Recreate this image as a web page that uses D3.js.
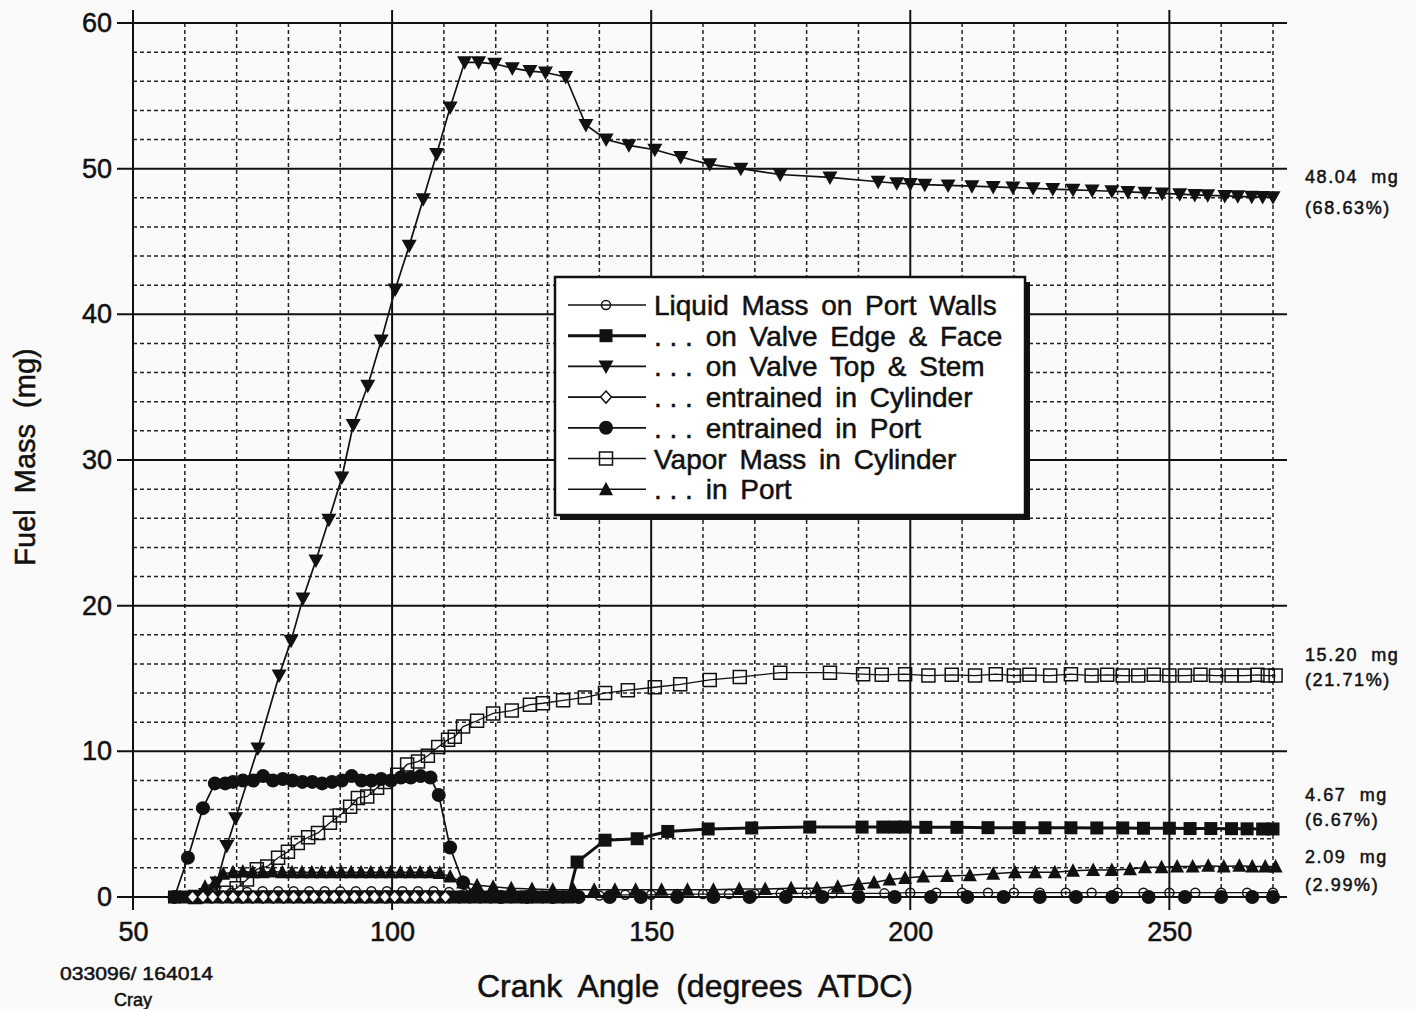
<!DOCTYPE html>
<html>
<head>
<meta charset="utf-8">
<script src="https://cdn.jsdelivr.net/npm/d3@7"></script>
<style>
  body { margin: 0; background: #fafafa; }
  svg { display: block; }
  text { font-family: "Liberation Sans", Arial, Helvetica, sans-serif; fill: #111; stroke: #111; stroke-width: 0.5px; }
</style>
</head>
<body>
<svg id="chart" width="1416" height="1009"></svg>
<script>
// ---- data (crank angle, fuel mass in mg) ----
const wallsX = [60, 63, 66, 69, 72, 75, 78, 81, 84, 87, 90, 93, 96, 99, 102, 105, 108, 111, 114, 117, 120, 124, 128, 132, 136, 140, 145, 150, 155, 160, 165, 170, 175, 180, 185, 190, 195, 200, 205, 210, 215, 220, 225, 230, 235, 240, 245, 250, 255, 260, 265, 270];
const wallsY = [0, 0.1, 0.2, 0.3, 0.35, 0.4, 0.4, 0.4, 0.4, 0.4, 0.4, 0.4, 0.4, 0.4, 0.4, 0.4, 0.4, 0.35, 0.2, 0.1, 0.05, 0.05, 0.05, 0.05, 0.1, 0.1, 0.15, 0.15, 0.2, 0.2, 0.2, 0.2, 0.25, 0.25, 0.25, 0.25, 0.25, 0.3, 0.3, 0.3, 0.3, 0.3, 0.3, 0.3, 0.3, 0.3, 0.3, 0.3, 0.3, 0.3, 0.3, 0.3];

const edgeX = [58, 60, 62, 64, 66, 68, 70, 72, 74, 76, 78, 80, 82, 84, 86, 88, 90, 92, 94, 96, 98, 100, 102, 104, 106, 108, 110, 112, 114, 116, 118, 120, 122, 124, 126, 128, 130, 132, 134, 135.7, 141.1, 147.3, 153.2, 161, 169.4, 180.6, 190.7, 194.7, 197, 199, 203, 209, 215, 221, 226, 231, 236, 241, 245, 250, 254, 258, 262, 265, 268, 270];
const edgeY = [0, 0, 0, 0, 0, 0, 0, 0, 0, 0, 0, 0, 0, 0, 0, 0, 0, 0, 0, 0, 0, 0, 0, 0, 0, 0, 0, 0, 0, 0, 0, 0, 0, 0, 0, 0, 0, 0, 0, 2.4, 3.9, 4.0, 4.5, 4.67, 4.74, 4.8, 4.8, 4.8, 4.8, 4.8, 4.78, 4.78, 4.76, 4.76, 4.75, 4.75, 4.74, 4.74, 4.72, 4.72, 4.7, 4.7, 4.69, 4.68, 4.67, 4.67];

const topX = [62, 64, 66.2, 68.1, 69.8, 74.1, 78.2, 80.5, 82.8, 85.3, 87.8, 90.3, 92.5, 95.3, 97.9, 100.6, 103.3, 106, 108.6, 111.2, 114, 116.7, 119.8, 123.2, 126.6, 129.6, 133.5, 137.4, 141.3, 145.7, 150.7, 155.7, 161.3, 167.3, 174.9, 184.5, 193.8, 197.4, 200, 202.8, 207.3, 211.9, 216, 219.8, 223.7, 227.5, 231.4, 235.1, 238.9, 242, 245.3, 248.6, 252, 254.9, 257.4, 260.7, 263.2, 265.9, 268, 270];
const topY = [0, 0.2, 1.0, 3.5, 5.4, 10.2, 15.2, 17.6, 20.5, 23.1, 25.9, 28.8, 32.4, 35.1, 38.2, 41.7, 44.7, 47.9, 51.0, 54.2, 57.3, 57.3, 57.2, 56.9, 56.7, 56.6, 56.3, 53.0, 52.0, 51.6, 51.3, 50.8, 50.3, 50.0, 49.6, 49.4, 49.1, 49.0, 48.95, 48.9, 48.85, 48.8, 48.75, 48.7, 48.65, 48.6, 48.55, 48.5, 48.45, 48.4, 48.35, 48.3, 48.25, 48.2, 48.17, 48.13, 48.1, 48.07, 48.05, 48.04];

const cylDropX = [61.5, 63.5, 65.4, 67.4, 69.3, 71.3, 73.2, 75.2, 77.1, 79.1, 81, 83, 84.9, 86.9, 88.8, 90.8, 92.7, 94.7, 96.6, 98.6, 100.5, 102.5, 104.4, 106.4, 108.3, 110.3];
const cylDropY = [0, 0, 0, 0, 0, 0, 0, 0, 0, 0, 0, 0, 0, 0, 0, 0, 0, 0, 0, 0, 0, 0, 0, 0, 0, 0];

const portDropX = [58, 60.6, 63.5, 65.8, 67.8, 69.3, 71.2, 73.2, 75.1, 77, 78.9, 80.8, 82.7, 84.6, 86.5, 88.4, 90.3, 92.2, 94.1, 96, 97.9, 99.8, 101.7, 103.6, 105.5, 107.4, 109, 111.2, 113.7, 116, 121, 126, 131, 136, 142, 148, 155, 162, 169, 176, 183, 190, 197, 204, 211, 218, 225, 232, 239, 246, 253, 260, 266, 270];
const portDropY = [0, 2.7, 6.1, 7.8, 7.8, 7.9, 8.0, 8.0, 8.3, 8.0, 8.1, 8.0, 7.9, 7.9, 7.8, 7.9, 8.0, 8.3, 8.0, 8.0, 8.1, 8.0, 8.2, 8.2, 8.3, 8.2, 7.0, 3.4, 1.0, 0.2, 0, 0, 0, 0, 0, 0, 0, 0, 0, 0, 0, 0, 0, 0, 0, 0, 0, 0, 0, 0, 0, 0, 0, 0];

const vapCylX = [62, 65, 68, 70, 72, 73.9, 75.9, 78, 79.9, 81.8, 83.8, 85.7, 88, 89.9, 91.9, 93.4, 95.2, 97.1, 98.6, 101, 102.9, 105, 106.9, 108.9, 110.8, 112.1, 113.7, 116.4, 119.5, 123.1, 126.6, 129.1, 133, 137.2, 141.1, 145.5, 150.7, 155.6, 161.3, 167.1, 174.9, 184.5, 190.9, 194.5, 199, 203.5, 208, 212.5, 216.5, 220, 223, 227, 231, 235, 238, 241, 244, 247, 250, 253, 256, 259, 262, 264.5, 267, 269, 270.5];
const vapCylY = [0, 0.1, 0.3, 0.6, 1.2, 1.9, 2.1, 2.7, 3.1, 3.7, 4.1, 4.4, 5.1, 5.6, 6.2, 6.8, 6.9, 7.5, 7.9, 8.4, 9.1, 9.3, 9.7, 10.3, 10.8, 11.0, 11.7, 12.1, 12.6, 12.8, 13.2, 13.3, 13.5, 13.7, 14.0, 14.2, 14.4, 14.6, 14.9, 15.1, 15.4, 15.4, 15.3, 15.25, 15.3, 15.2, 15.25, 15.2, 15.3, 15.2, 15.25, 15.2, 15.3, 15.2, 15.25, 15.2, 15.2, 15.25, 15.2, 15.2, 15.25, 15.2, 15.2, 15.2, 15.25, 15.2, 15.2];

const vapPortX = [62, 63.9, 65.8, 67.4, 69.3, 71.2, 73.1, 75, 76.9, 78.8, 80.7, 82.6, 84.5, 86.4, 88.3, 90.2, 92.1, 94, 95.9, 97.8, 99.7, 101.6, 103.5, 105.4, 107.3, 109.2, 111.2, 113.7, 116.4, 119.5, 123, 127, 131, 135, 139, 143, 147, 152, 157, 162, 167, 172, 177, 182, 186, 190, 193, 196, 199, 202.5, 207.1, 211.5, 216, 220.2, 224.1, 227.9, 231.4, 235.3, 238.9, 242.4, 245.3, 248.5, 251.5, 254.5, 257.5, 260.5, 263.5, 266, 268.5, 270.5];
const vapPortY = [0, 0.7, 1.0, 1.6, 1.7, 1.75, 1.7, 1.7, 1.75, 1.7, 1.7, 1.7, 1.7, 1.7, 1.7, 1.7, 1.7, 1.7, 1.7, 1.7, 1.7, 1.7, 1.7, 1.7, 1.7, 1.65, 1.4, 1.0, 0.8, 0.7, 0.6, 0.55, 0.5, 0.5, 0.5, 0.5, 0.5, 0.5, 0.5, 0.5, 0.55, 0.55, 0.6, 0.6, 0.7, 0.9, 1.0, 1.2, 1.3, 1.4, 1.45, 1.5, 1.6, 1.7, 1.7, 1.7, 1.8, 1.85, 1.85, 1.9, 2.05, 2.05, 2.1, 2.1, 2.15, 2.1, 2.15, 2.1, 2.1, 2.1];

// legend: leading dots kept apart so they stay tightly spaced
const legendDots = ["", ". . .", ". . .", ". . .", ". . .", "", ". . ."];
const legendLabels = [
  "Liquid Mass on Port Walls",
  " on Valve Edge & Face",
  " on Valve Top & Stem",
  " entrained in Cylinder",
  " entrained in Port",
  "Vapor Mass in Cylinder",
  " in Port"
];
const endValues = [48.04, 15.20, 4.67, 2.09];
const endMass = ["48.04  mg", "15.20  mg", "4.67  mg", "2.09  mg"];
const endShare = ["(68.63%)", "(21.71%)", "(6.67%)", "(2.99%)"];
const xTicks = [50, 100, 150, 200, 250];
const yTicks = [0, 10, 20, 30, 40, 50, 60];

// ---- setup ----
const svg = d3.select("#chart");
const x = d3.scaleLinear().domain([50, 270]).range([133, 1273]);
const y = d3.scaleLinear().domain([0, 60]).range([897, 23]);

// marker shapes
function markerPath(kind) {
  switch (kind) {
    case "square": return "M-6.5,-6.5H6.5V6.5H-6.5Z";
    case "triDown": return "M-7.5,-6H7.5L0,7.5Z";
    case "triUp": return "M0,-7.5L7,6H-7Z";
    case "diamond": return "M0,-6L5.5,0L0,6L-5.5,0Z";
  }
}
function drawMarker(g, kind, cx, cy) {
  if (kind === "circleOpen") {
    g.append("circle").attr("cx", cx).attr("cy", cy).attr("r", 4.5)
      .attr("fill", "none").attr("stroke", "#111").attr("stroke-width", 1.5);
  } else if (kind === "circleFilled") {
    g.append("circle").attr("cx", cx).attr("cy", cy).attr("r", 7).attr("fill", "#111");
  } else if (kind === "squareFilled") {
    g.append("path").attr("d", markerPath("square")).attr("transform", `translate(${cx},${cy})`).attr("fill", "#111");
  } else if (kind === "squareOpen") {
    g.append("path").attr("d", markerPath("square")).attr("transform", `translate(${cx},${cy})`)
      .attr("fill", "none").attr("stroke", "#111").attr("stroke-width", 1.5);
  } else if (kind === "triDown") {
    g.append("path").attr("d", markerPath("triDown")).attr("transform", `translate(${cx},${cy})`).attr("fill", "#111");
  } else if (kind === "triUp") {
    g.append("path").attr("d", markerPath("triUp")).attr("transform", `translate(${cx},${cy})`).attr("fill", "#111");
  } else if (kind === "diamond") {
    g.append("path").attr("d", markerPath("diamond")).attr("transform", `translate(${cx},${cy})`)
      .attr("fill", "#fff").attr("stroke", "#111").attr("stroke-width", 1.5);
  }
}

// ---- grid ----
const grid = svg.append("g");
const xMinor = d3.range(60, 271, 10).filter(v => v % 50 !== 0);
const yMinor = d3.range(2, 60, 2).filter(v => v % 10 !== 0);

grid.selectAll(".vmin").data(xMinor).join("line")
  .attr("x1", d => x(d)).attr("x2", d => x(d))
  .attr("y1", y(60)).attr("y2", y(0))
  .attr("stroke", "#222").attr("stroke-width", 1.5).attr("stroke-dasharray", "4,3");
grid.selectAll(".hmin").data(yMinor).join("line")
  .attr("y1", d => y(d)).attr("y2", d => y(d))
  .attr("x1", x(50)).attr("x2", x(270))
  .attr("stroke", "#222").attr("stroke-width", 1.5).attr("stroke-dasharray", "4,3");
grid.selectAll(".vmaj").data(xTicks).join("line")
  .attr("x1", d => x(d)).attr("x2", d => x(d))
  .attr("y1", y(60) - 13).attr("y2", y(0) + 13)
  .attr("stroke", "#111").attr("stroke-width", 2);
grid.selectAll(".hmaj").data(yTicks).join("line")
  .attr("y1", d => y(d)).attr("y2", d => y(d))
  .attr("x1", x(50) - 16).attr("x2", x(270) + 14)
  .attr("stroke", "#111").attr("stroke-width", 2);

// ---- tick labels via axes ----
svg.append("g").attr("transform", `translate(0,${y(0) + 22})`)
  .call(d3.axisBottom(x).tickValues(xTicks).tickSize(0).tickFormat(d3.format("d")))
  .call(g => g.select(".domain").remove())
  .selectAll("text").attr("font-size", 27).attr("font-family", "Liberation Sans, Arial, sans-serif")
  .attr("fill", "#111").attr("stroke", "#111").attr("stroke-width", 0.5);

svg.append("g").attr("transform", `translate(${x(50) - 18},0)`)
  .call(d3.axisLeft(y).tickValues(yTicks).tickSize(0).tickFormat(d3.format("d")))
  .call(g => g.select(".domain").remove())
  .selectAll("text").attr("font-size", 27).attr("font-family", "Liberation Sans, Arial, sans-serif")
  .attr("fill", "#111").attr("stroke", "#111").attr("stroke-width", 0.5);

// ---- series ----
const series = [
  { xs: edgeX, ys: edgeY, marker: "squareFilled", width: 3 },
  { xs: portDropX, ys: portDropY, marker: "circleFilled", width: 1.7 },
  { xs: topX, ys: topY, marker: "triDown", width: 1.7 },
  { xs: vapPortX, ys: vapPortY, marker: "triUp", width: 1.5 },
  { xs: vapCylX, ys: vapCylY, marker: "squareOpen", width: 1.3 },
  { xs: wallsX, ys: wallsY, marker: "circleOpen", width: 1.3 },
  { xs: cylDropX, ys: cylDropY, marker: "diamond", width: 1.3 }
];
const line = d3.line().x(d => x(d[0])).y(d => y(d[1]));

series.forEach(s => {
  const pts = s.xs.map((v, i) => [v, s.ys[i]]);
  const g = svg.append("g");
  g.append("path").datum(pts).attr("d", line)
    .attr("fill", "none").attr("stroke", "#111").attr("stroke-width", s.width);
  pts.forEach(p => drawMarker(g, s.marker, x(p[0]), y(p[1])));
});

// ---- end-value labels ----
const endG = svg.append("g").attr("font-size", 18).attr("letter-spacing", 1.6);
const endShift = [-14, -15, -28, -4];   // pixel offset of first line from the series' end value
const endGap = [31, 25, 25, 28];
endValues.forEach((v, i) => {
  const base = y(v) + endShift[i];
  endG.append("text").attr("x", 1305).attr("y", base)
    .style("white-space", "pre").text(endMass[i]);
  endG.append("text").attr("x", 1305).attr("y", base + endGap[i])
    .text(endShare[i]);
});

// ---- legend ----
const lg = svg.append("g");
lg.append("rect").attr("x", 560).attr("y", 282).attr("width", 470).attr("height", 238).attr("fill", "#111");
lg.append("rect").attr("x", 555).attr("y", 277).attr("width", 470).attr("height", 238)
  .attr("fill", "#fff").attr("stroke", "#111").attr("stroke-width", 2.5);
const legendMarkers = ["circleOpen", "squareFilled", "triDown", "diamond", "circleFilled", "squareOpen", "triUp"];
const legendWidths = [1.7, 3, 1.7, 1.7, 1.7, 1.5, 1.5];
legendLabels.forEach((label, i) => {
  const cy = 305 + i * 30.7;
  lg.append("line").attr("x1", 568).attr("x2", 646).attr("y1", cy).attr("y2", cy)
    .attr("stroke", "#111").attr("stroke-width", legendWidths[i]);
  drawMarker(lg, legendMarkers[i], 606, cy);
  const t = lg.append("text").attr("x", 654).attr("y", cy + 10).attr("font-size", 28)
    .attr("stroke-width", 0.8).style("white-space", "pre");
  if (legendDots[i]) t.append("tspan").attr("word-spacing", 0).text(legendDots[i]);
  t.append("tspan").attr("word-spacing", 5).text(label);
});

// ---- titles ----
svg.append("text").attr("x", 695).attr("y", 997).attr("text-anchor", "middle")
  .attr("font-size", 32).attr("word-spacing", 8).text("Crank Angle (degrees ATDC)");
svg.append("text").attr("transform", "translate(35,457) rotate(-90)").attr("text-anchor", "middle")
  .attr("font-size", 29).attr("word-spacing", 8).text("Fuel Mass (mg)");
svg.append("text").attr("x", 60).attr("y", 980).attr("font-size", 19)
  .attr("textLength", 153).attr("lengthAdjust", "spacingAndGlyphs")
  .text("033096/ 164014");
svg.append("text").attr("x", 133).attr("y", 1006).attr("text-anchor", "middle")
  .attr("font-size", 18).text("Cray");
</script>
</body>
</html>
